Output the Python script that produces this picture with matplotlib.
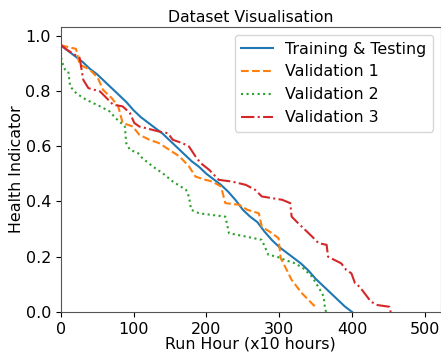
import matplotlib
matplotlib.use("Agg")
import matplotlib.pyplot as plt

title = "Dataset Visualisation"
xlabel = "Run Hour (x10 hours)"
ylabel = "Health Indicator"
labels = ["Training & Testing", "Validation 1", "Validation 2", "Validation 3"]

train_x = [0, 10, 20, 30, 40, 50, 60, 70, 80, 90, 100, 110, 120, 130, 140, 150, 160, 170, 180, 190,
           200, 210, 220, 230, 240, 250, 260, 270, 280, 290, 300, 310, 320, 330, 340, 350, 360, 370,
           380, 390, 400]
train_y = [0.965, 0.945, 0.925, 0.905, 0.88, 0.86, 0.835, 0.81, 0.785, 0.76, 0.73, 0.705, 0.685,
           0.665, 0.645, 0.62, 0.595, 0.57, 0.545, 0.525, 0.50, 0.48, 0.46, 0.435, 0.405, 0.37,
           0.345, 0.325, 0.29, 0.26, 0.235, 0.215, 0.195, 0.175, 0.15, 0.12, 0.095, 0.07, 0.045,
           0.02, 0.0]

val1_x = [0, 21, 26, 40, 51, 58, 70, 79, 85, 99, 108, 122, 135, 149, 163, 176, 185, 199, 208, 220,
          226, 245, 256, 272, 276, 290, 299, 302, 308, 317, 331, 347, 350]
val1_y = [0.965, 0.952, 0.895, 0.877, 0.847, 0.804, 0.774, 0.744, 0.684, 0.671, 0.641, 0.623,
          0.611, 0.587, 0.563, 0.527, 0.49, 0.478, 0.472, 0.454, 0.394, 0.388, 0.37, 0.357, 0.309,
          0.285, 0.267, 0.194, 0.164, 0.116, 0.068, 0.025, 0.02]

val2_x = [0, 1, 6, 10.5, 13, 22, 35, 54, 67, 76, 88, 90, 95, 106, 112, 126, 140, 154, 172, 176,
          179, 190, 208, 226, 231, 254, 276, 281, 285, 297, 308, 322, 333, 345, 356, 361, 363, 365]
val2_y = [0.96, 0.91, 0.877, 0.87, 0.816, 0.79, 0.768, 0.744, 0.726, 0.70, 0.672, 0.611, 0.587,
          0.575, 0.557, 0.527, 0.502, 0.472, 0.442, 0.418, 0.37, 0.357, 0.351, 0.345, 0.285,
          0.273, 0.261, 0.231, 0.207, 0.20, 0.188, 0.176, 0.158, 0.128, 0.08, 0.056, 0.007, 0.0]

val3_x = [0, 8, 26, 31, 38, 54, 63, 72, 85, 95, 101, 108, 117, 126, 135, 147, 154, 167, 176, 185,
          192, 204, 217, 235, 254, 267, 276, 290, 304, 315, 317, 326, 338, 345, 354, 365, 367, 376,
          385, 392, 399, 404, 410, 417, 426, 435, 451, 453]
val3_y = [0.967, 0.95, 0.92, 0.84, 0.81, 0.798, 0.774, 0.75, 0.744, 0.72, 0.684, 0.671, 0.665,
          0.659, 0.653, 0.647, 0.623, 0.611, 0.599, 0.563, 0.539, 0.514, 0.478, 0.472, 0.46,
          0.442, 0.418, 0.412, 0.406, 0.394, 0.345, 0.321, 0.291, 0.273, 0.249, 0.243, 0.2,
          0.188, 0.176, 0.152, 0.14, 0.104, 0.092, 0.068, 0.037, 0.025, 0.019, 0.0]

fig = plt.figure(figsize=(4.41, 3.58), dpi=100)
ax = fig.add_axes([0.1376, 0.1285, 0.8624, 0.7952])
ax.plot(train_x, train_y, '-', color='tab:blue', lw=1.5, label=labels[0])
ax.plot(val1_x, val1_y, '--', color='tab:orange', lw=1.5, label=labels[1])
ax.plot(val2_x, val2_y, ':', color='tab:green', lw=1.5, label=labels[2])
ax.plot(val3_x, val3_y, '-.', color='tab:red', lw=1.5, label=labels[3])

ax.set_xlim(0, 522)
ax.set_ylim(0, 1.03)
ax.set_xticks([0, 100, 200, 300, 400, 500])
ax.set_yticks([0.0, 0.2, 0.4, 0.6, 0.8, 1.0])
ax.tick_params(labelsize=11.5)
ax.set_title(title, fontsize=11.3, pad=4)
ax.set_xlabel(xlabel, fontsize=11.4, labelpad=0)
ax.set_ylabel(ylabel, fontsize=11.4, labelpad=1)
for s in ax.spines.values():
    s.set_color('#555555')
ax.legend(loc='upper right', fontsize=11.4)
fig.savefig("out.png", dpi=100)
